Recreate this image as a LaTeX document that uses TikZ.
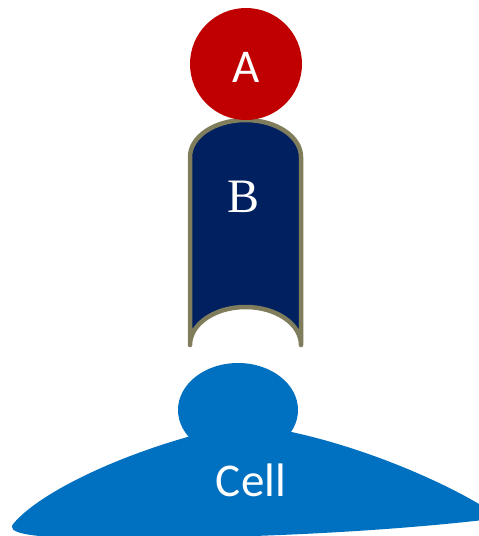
\documentclass[tikz,border=0pt]{standalone}
\usepackage{fontspec}
\setmainfont{Carlito}
\newfontfamily\serifB{Liberation Serif}
\definecolor{ligandred}{HTML}{C00000}
\definecolor{receptornavy}{HTML}{002060}
\definecolor{receptorrim}{HTML}{7F7D5C}
\definecolor{cellblue}{HTML}{0070C0}
\begin{document}
\begin{tikzpicture}[x=1pt,y=-1pt,
  label text/.style={text=white,font=\fontsize{47}{50}\selectfont}]
\useasboundingbox (0,0) rectangle (479,536);
\begin{scope}
\clip (0,0) rectangle (479,536);
% cell body and its bulge
\fill[cellblue] (14,523) .. controls (40,492) and (130,447) .. (240,424)
  .. controls (330,432) and (440,478) .. (492,512) -- (492,519)
  .. controls (400,530) and (250,540) .. (80,538)
  .. controls (30,537) and (4,533) .. (14,523) -- cycle;
\fill[cellblue] (238,410) ellipse[x radius=60,y radius=47];
\end{scope}
\node[label text] (cell) at (251,480) {Cell};
% receptor B
\filldraw[fill=receptornavy,draw=receptorrim,line width=4.5pt,line cap=round,line join=round]
  (190,345) -- (190,157) arc[start angle=180,end angle=360,x radius=55.5,y radius=37]
  -- (301,345) arc[start angle=0,end angle=-180,x radius=55.5,y radius=38];
\node[label text,font=\serifB\fontsize{48}{50}\selectfont] (B) at (244,197) {B};
% ligand A
\fill[ligandred] (246,64) circle[radius=56];
\node[label text] (A) at (246,67) {A};
\end{tikzpicture}
\end{document}
